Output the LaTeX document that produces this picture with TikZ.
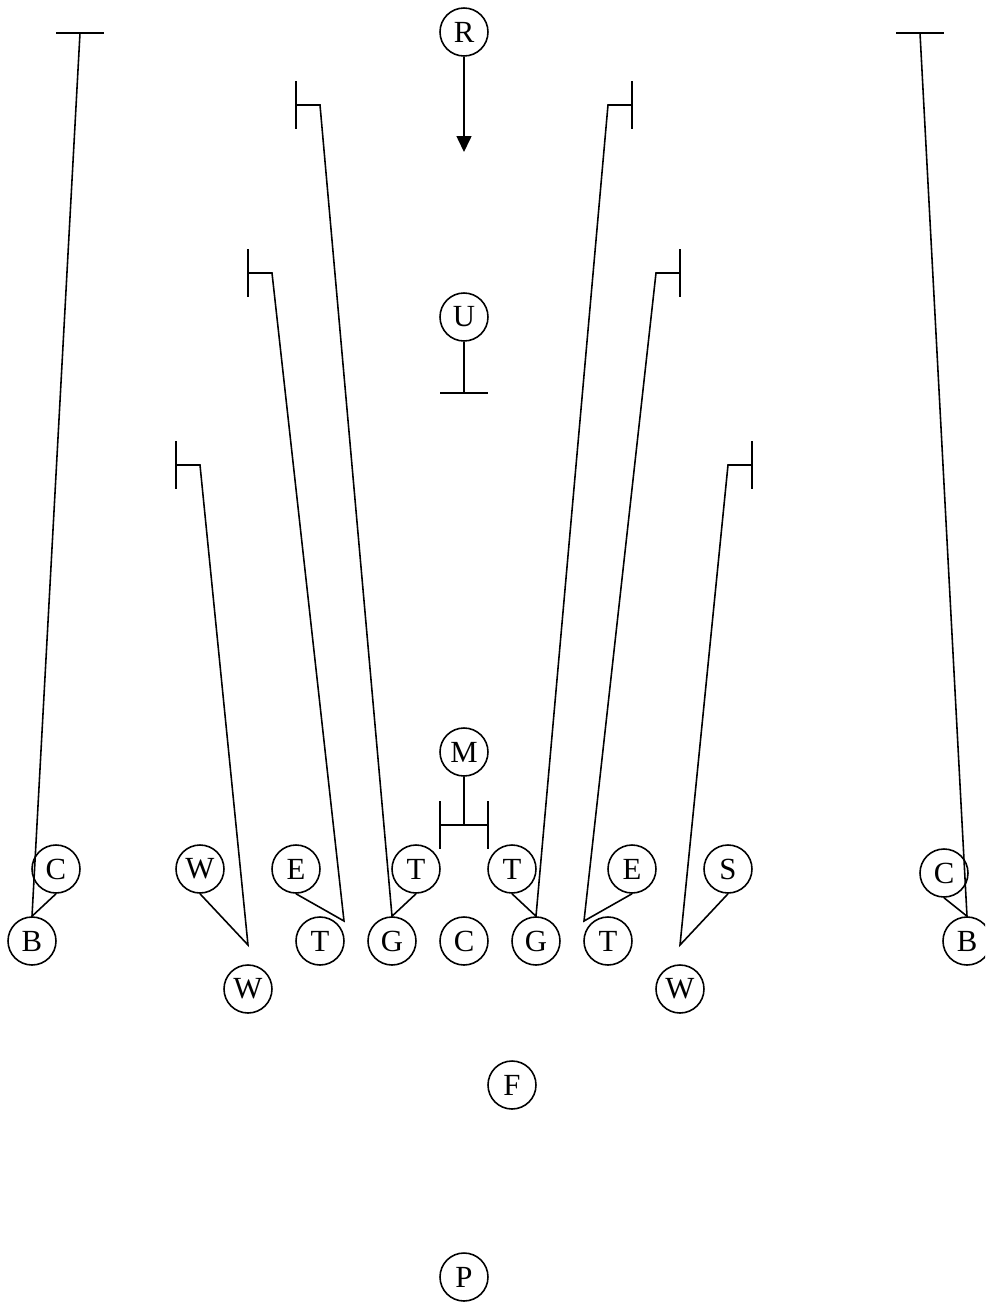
\documentclass[tikz,border=0pt]{standalone}
\usepackage{fontspec}
\setmainfont{Liberation Serif}
\usetikzlibrary{positioning,arrows.meta}

\tikzset{
  player/.style={draw, circle, line width=0.9pt, minimum size=0.96cm,
                 inner sep=0pt, font=\fontsize{17.5}{17.5}\selectfont},
  route/.style={line width=0.9pt},
  blockbar/.style={line width=1.1pt}
}

\begin{document}
\begin{tikzpicture}[x=0.02cm, y=-0.02cm]
    \clip (0,0) rectangle (985,1302);
    % defense
    \node[player] (R) at (464, 32) {R};
    \node[player] (U) at (464, 317) {U};
    \node[player] (M) at (464, 752) {M};
    \node[player] (C1) at (56, 869) {C};
    \node[player] (W1) at (200, 869) {W};
    \node[player] (E1) at (296, 869) {E};
    \node[player] (T1) at (416, 869) {T};
    \node[player] (T2) at (512, 869) {T};
    \node[player] (E2) at (632, 869) {E};
    \node[player] (S1) at (728, 869) {S};
    \node[player] (C2) at (944, 873) {C};
    % offense
    \node[player] (B1) at (32, 941) {B};
    \node[player] (T3) at (320, 941) {T};
    \node[player] (G1) at (392, 941) {G};
    \node[player] (C0) at (464, 941) {C};
    \node[player] (G2) at (536, 941) {G};
    \node[player] (T4) at (608, 941) {T};
    \node[player] (B2) at (967, 941) {B};
    \node[player] (W2) at (248, 989) {W};
    \node[player] (W3) at (680, 989) {W};
    \node[player] (F) at (512, 1085) {F};
    \node[player] (P) at (464, 1277) {P};

    \coordinate (rtip) at (464, 152);
    \coordinate (ubar) at (464, 393);
    \coordinate (mbar) at (464, 825);
    \coordinate (lbtop) at (80, 33);
    \coordinate (rbtop) at (920, 33);
    \coordinate (lwc) at (248, 945);
    \coordinate (rwc) at (680, 945);
    \coordinate (ltc) at (344, 921);
    \coordinate (rtc) at (584, 921);

    \draw[route, -{Triangle[length=0.32cm, width=0.3cm]}] (R) -- (rtip);
    \draw[route] (U) -- (ubar);
    \draw[blockbar] ([xshift=-0.48cm] ubar) -- ([xshift=0.48cm] ubar);
    \draw[route] (M) -- (mbar);
    \draw[blockbar] ([xshift=-0.48cm, yshift=0.48cm] mbar) -- ([xshift=-0.48cm, yshift=-0.48cm] mbar);
    \draw[blockbar] ([xshift=0.48cm, yshift=0.48cm] mbar) -- ([xshift=0.48cm, yshift=-0.48cm] mbar);
    \draw[blockbar] ([xshift=-0.48cm] mbar) -- ([xshift=0.48cm] mbar);

    % outside routes
    \draw[route] (C1.south) -- (B1.north) -- (lbtop);
    \draw[blockbar] ([xshift=-0.48cm] lbtop) -- ([xshift=0.48cm] lbtop);
    \draw[route] (C2.south) -- (B2.north) -- (rbtop);
    \draw[blockbar] ([xshift=-0.48cm] rbtop) -- ([xshift=0.48cm] rbtop);

    % left side
    \draw[route] (W1.south) -- (lwc) -- (200, 465) -- (176, 465);
    \draw[blockbar] (176, 441) -- (176, 489);
    \draw[route] (E1.south) -- (ltc) -- (272, 273) -- (248, 273);
    \draw[blockbar] (248, 249) -- (248, 297);
    \draw[route] (T1.south) -- (G1.north) -- (320, 105) -- (296, 105);
    \draw[blockbar] (296, 81) -- (296, 129);

    % right side
    \draw[route] (T2.south) -- (G2.north) -- (608, 105) -- (632, 105);
    \draw[blockbar] (632, 81) -- (632, 129);
    \draw[route] (E2.south) -- (rtc) -- (656, 273) -- (680, 273);
    \draw[blockbar] (680, 249) -- (680, 297);
    \draw[route] (S1.south) -- (rwc) -- (728, 465) -- (752, 465);
    \draw[blockbar] (752, 441) -- (752, 489);
\end{tikzpicture}
\end{document}
